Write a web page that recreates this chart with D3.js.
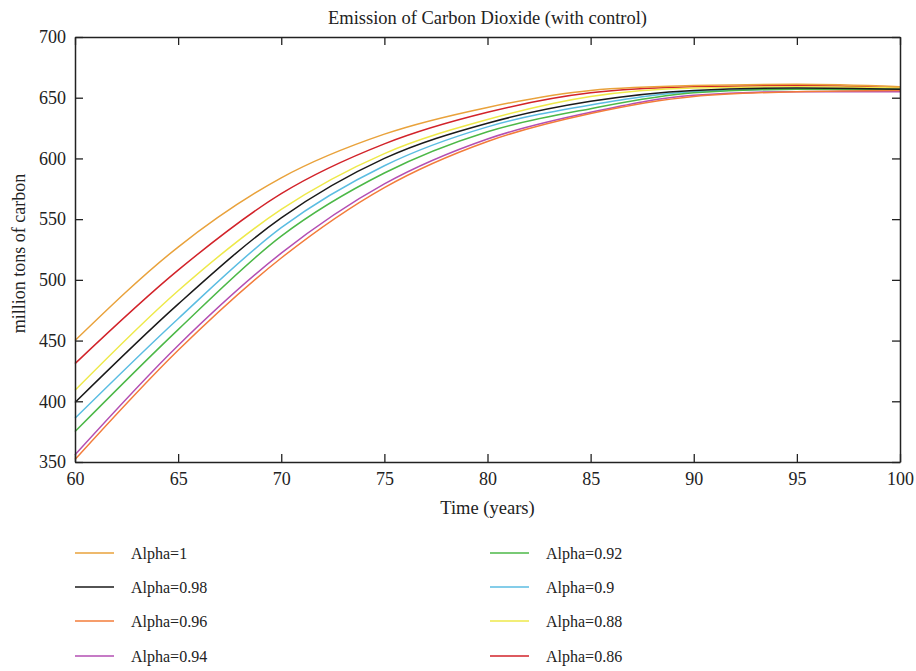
<!DOCTYPE html>
<html>
<head>
<meta charset="utf-8">
<script src="https://cdn.jsdelivr.net/npm/d3@7/dist/d3.min.js"></script>
<style>
  body { margin: 0; background: #fff; }
  text { font-family: "Liberation Serif", "DejaVu Serif", serif; fill: #222; }
</style>
</head>
<body>
<svg id="chart" width="916" height="671"></svg>
<script>
// years on the x axis
let years = [60, 65, 70, 75, 80, 85, 90, 95, 100];

// one array per alpha value (million tons of carbon)
let alpha100 = [450, 527, 584, 620, 642, 656, 660, 661, 659];
let alpha098 = [399, 480, 551, 600, 629, 647, 656, 658, 657];
let alpha096 = [352, 442, 518, 576, 614, 637, 651, 655, 656];
let alpha094 = [356, 446, 522, 579, 616, 638, 652, 655, 655];
let alpha092 = [375, 459, 536, 588, 622, 641, 654, 657, 657];
let alpha090 = [386, 468, 543, 594, 626, 644, 655, 657, 656];
let alpha088 = [409, 491, 558, 604, 632, 651, 658, 659, 658];
let alpha086 = [431, 508, 571, 612, 638, 654, 659, 660, 658];

let seriesNames = ["Alpha=1", "Alpha=0.98", "Alpha=0.96", "Alpha=0.94",
                   "Alpha=0.92", "Alpha=0.9", "Alpha=0.88", "Alpha=0.86"];
let seriesValues = [alpha100, alpha098, alpha096, alpha094,
                    alpha092, alpha090, alpha088, alpha086];
let seriesColors = ["#e9a23b", "#1a1a1a", "#f37c3a", "#b34fb3",
                    "#4cb847", "#5bbde2", "#eee94a", "#d2232a"];

let xTicks = [60, 65, 70, 75, 80, 85, 90, 95, 100];
let yTicks = [350, 400, 450, 500, 550, 600, 650, 700];

let svg = d3.select("#chart");
let mLeft = 75, mRight = 900, mTop = 37, mBottom = 462;
let serif = "'Liberation Serif', 'DejaVu Serif', serif";

let xScale = d3.scaleLinear().domain([60, 100]).range([mLeft, mRight]);
let yScale = d3.scaleLinear().domain([350, 700]).range([mBottom, mTop]);

// title
svg.append("text")
  .attr("x", (mLeft + mRight) / 2)
  .attr("y", 24)
  .attr("text-anchor", "middle")
  .style("font-size", "18.5px")
  .text("Emission of Carbon Dioxide (with control)");

// lines (drawn from last to first so Alpha=1 sits on top)
let line = d3.line()
  .x((d, i) => xScale(years[i]))
  .y(d => yScale(d))
  .curve(d3.curveMonotoneX);

let order = [7, 6, 5, 4, 3, 2, 1, 0];
svg.append("g").selectAll("path")
  .data(order)
  .enter().append("path")
  .attr("d", i => line(seriesValues[i]))
  .attr("fill", "none")
  .attr("stroke", i => seriesColors[i])
  .attr("stroke-width", 1.5);

// axes with inward ticks, mirrored on top and right
let xAxis = d3.axisBottom(xScale).tickValues(xTicks).tickSizeInner(-8).tickSizeOuter(0).tickPadding(10);
let yAxis = d3.axisLeft(yScale).tickValues(yTicks).tickSizeInner(-8).tickSizeOuter(0).tickPadding(9);
let xTop = d3.axisTop(xScale).tickValues(xTicks).tickSizeInner(-8).tickSizeOuter(0).tickFormat("");
let yRight = d3.axisRight(yScale).tickValues(yTicks).tickSizeInner(-8).tickSizeOuter(0).tickFormat("");

function styleAxis(g) {
  g.attr("font-family", serif).attr("font-size", 18);
  g.selectAll("path").attr("stroke", "#222").attr("stroke-width", 1.5);
  g.selectAll("line").attr("stroke", "#222").attr("stroke-width", 1.3);
  g.selectAll("text").attr("fill", "#222");
}

svg.append("g").attr("transform", "translate(0," + mBottom + ")").call(xAxis).call(styleAxis);
svg.append("g").attr("transform", "translate(" + mLeft + ",0)").call(yAxis).call(styleAxis);
svg.append("g").attr("transform", "translate(0," + mTop + ")").call(xTop).call(styleAxis);
svg.append("g").attr("transform", "translate(" + mRight + ",0)").call(yRight).call(styleAxis);

// axis titles
svg.append("text")
  .attr("x", (mLeft + mRight) / 2)
  .attr("y", 514)
  .attr("text-anchor", "middle")
  .style("font-size", "18.5px")
  .text("Time (years)");

svg.append("text")
  .attr("transform", "translate(25," + ((mTop + mBottom) / 2 + 4) + ") rotate(-90)")
  .attr("text-anchor", "middle")
  .style("font-size", "18px")
  .text("million tons of carbon");

// legend: two columns of four
let legendRows = [553, 587, 621, 656];
let legendCols = [75, 490];
let legend = svg.append("g").selectAll("g")
  .data(seriesNames)
  .enter().append("g")
  .attr("transform", (d, i) => "translate(" + legendCols[Math.floor(i / 4)] + "," + legendRows[i % 4] + ")");

legend.append("line")
  .attr("x1", 0).attr("x2", 39)
  .attr("y1", 0).attr("y2", 0)
  .attr("stroke", (d, i) => seriesColors[i])
  .attr("stroke-width", 1.5);

legend.append("text")
  .attr("x", 56)
  .attr("y", 6)
  .style("font-size", "16px")
  .text(d => d);
</script>
</body>
</html>
